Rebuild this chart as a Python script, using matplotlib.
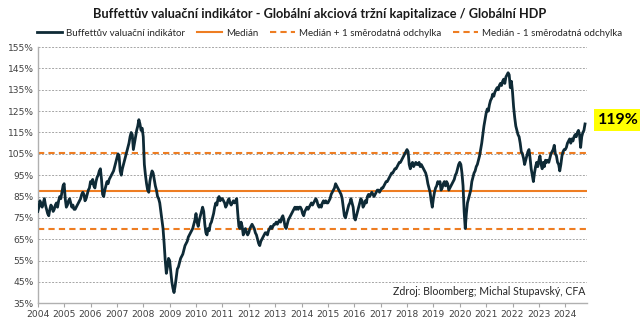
import matplotlib.pyplot as plt
import numpy as np

# semi-monthly readings (% of global GDP), 24 per year starting 2004-01
y2004 = [78, 80, 83, 81, 80, 82, 84, 81, 79, 77, 76, 79, 81, 80, 78, 79, 81, 82, 80, 83, 85, 84, 87, 90]
y2005 = [91, 84, 80, 81, 83, 84, 82, 80, 81, 79, 79, 80, 81, 82, 83, 84, 86, 87, 86, 83, 84, 86, 88, 89]
y2006 = [92, 91, 93, 90, 89, 92, 94, 95, 97, 98, 93, 86, 85, 88, 90, 92, 91, 93, 94, 95, 96, 97, 99, 101]
y2007 = [103, 105, 104, 97, 95, 98, 100, 102, 104, 106, 108, 110, 113, 115, 114, 107, 110, 113, 116, 118, 121, 119, 116, 117]
y2008 = [113, 100, 95, 91, 88, 87, 92, 95, 97, 96, 93, 90, 88, 85, 84, 82, 78, 74, 70, 63, 55, 49, 52, 56]
y2009 = [55, 50, 45, 42, 40, 43, 47, 51, 52, 54, 56, 57, 58, 60, 62, 63, 64, 66, 67, 68, 69, 70, 72, 74]
y2010 = [77, 73, 71, 74, 76, 78, 80, 78, 72, 68, 67, 70, 69, 72, 73, 75, 77, 80, 82, 81, 84, 85, 83, 84]
y2011 = [84, 83, 82, 80, 81, 83, 84, 82, 81, 82, 83, 82, 83, 84, 77, 71, 70, 73, 71, 67, 69, 70, 68, 67]
y2012 = [68, 70, 71, 72, 71, 70, 68, 67, 65, 63, 62, 64, 65, 66, 67, 68, 68, 67, 69, 70, 71, 70, 71, 72]
y2013 = [72, 73, 72, 73, 74, 73, 75, 76, 74, 71, 70, 72, 74, 75, 76, 77, 78, 79, 80, 79, 80, 79, 80, 80]
y2014 = [79, 77, 76, 78, 79, 80, 79, 80, 81, 82, 81, 82, 83, 84, 83, 81, 80, 81, 80, 82, 83, 82, 83, 82]
y2015 = [82, 83, 84, 86, 87, 88, 89, 91, 90, 89, 88, 87, 86, 84, 80, 76, 75, 77, 79, 81, 82, 84, 82, 80]
y2016 = [75, 74, 76, 78, 80, 82, 84, 83, 80, 81, 83, 82, 85, 86, 85, 86, 87, 86, 85, 86, 87, 88, 88, 87]
y2017 = [88, 89, 89, 90, 91, 92, 92, 93, 94, 95, 96, 96, 97, 98, 98, 99, 100, 101, 101, 102, 103, 104, 105, 106]
y2018 = [107, 106, 100, 98, 100, 101, 99, 100, 101, 100, 100, 101, 99, 100, 99, 98, 97, 96, 94, 91, 89, 87, 83, 80]
y2019 = [84, 87, 89, 90, 92, 91, 92, 88, 89, 91, 92, 90, 92, 91, 88, 89, 90, 91, 92, 93, 95, 96, 98, 100]
y2020 = [101, 100, 96, 90, 78, 70, 77, 82, 84, 86, 88, 92, 94, 96, 97, 99, 100, 102, 104, 107, 110, 114, 118, 121]
y2021 = [124, 126, 125, 128, 130, 131, 133, 132, 134, 135, 136, 135, 137, 138, 137, 139, 140, 138, 141, 142, 143, 142, 136, 139]
y2022 = [134, 127, 122, 118, 116, 114, 113, 110, 106, 105, 103, 100, 102, 104, 106, 107, 103, 98, 95, 92, 96, 99, 101, 99]
y2023 = [102, 104, 100, 98, 101, 99, 102, 101, 102, 101, 103, 105, 106, 107, 109, 105, 104, 101, 100, 97, 100, 104, 106, 107]
y2024 = [107, 108, 110, 111, 112, 110, 112, 111, 113, 114, 113, 115, 116, 114, 108, 113, 115, 116, 119]

median = 87.8
plus_sd = 105.5
minus_sd = 70.0
latest_label = "119%"
years = list(range(2004, 2025))

vals = (y2004 + y2005 + y2006 + y2007 + y2008 + y2009 + y2010 + y2011 + y2012 + y2013
        + y2014 + y2015 + y2016 + y2017 + y2018 + y2019 + y2020 + y2021 + y2022 + y2023 + y2024)
t = 2004 + np.arange(len(vals)) / 24.0

navy = "#0e2a36"
orange = "#ee7d22"
grey = "#a6a6a6"

fig = plt.figure(figsize=(6.4, 3.25), dpi=100)
ax = fig.add_axes([0.059, 0.067, 0.858, 0.788])

ax.plot(t, vals, color=navy, lw=2.0, label="Buffettův valuační indikátor", zorder=3)
ax.axhline(median, color=orange, lw=1.5, label="Medián", zorder=2)
ax.axhline(plus_sd, color=orange, lw=1.5, ls=(0, (3, 2)), label="Medián + 1 směrodatná odchylka", zorder=2)
ax.axhline(minus_sd, color=orange, lw=1.5, ls=(0, (3, 2)), label="Medián - 1 směrodatná odchylka", zorder=2)

ax.set_xlim(2004, 2024.82)
ax.set_ylim(35, 155)
ax.set_yticks(np.arange(35, 156, 10))
ax.set_yticklabels([f"{v}%" for v in range(35, 156, 10)])
ax.set_xticks(years)
ax.set_xticklabels([str(y) for y in years])
ax.grid(axis="y", color=grey, ls=(0, (2, 1.5)), lw=0.7, zorder=0)
ax.tick_params(axis="y", length=0, labelsize=6.6, labelcolor="#404040", pad=3)
ax.tick_params(axis="x", length=3, color=grey, labelsize=6.6, labelcolor="#404040", pad=2)
for s in ["top", "right"]:
    ax.spines[s].set_visible(False)
for s in ["left", "bottom"]:
    ax.spines[s].set_color("#b0b0b0")
    ax.spines[s].set_linewidth(1.0)

fig.suptitle("Buffettův valuační indikátor - Globální akciová tržní kapitalizace / Globální HDP",
             x=0.50, y=0.975, fontsize=9.2, fontweight="bold", family="Lato", color="#1a1a1a")
fig.legend(loc="center", bbox_to_anchor=(0.515, 0.898), ncol=4, frameon=False,
           prop={"family": "Lato", "size": 7.0}, handlelength=2.6, columnspacing=1.2,
           handletextpad=0.4, labelcolor="#262626")

ax.text(0.997, 0.045, "Zdroj: Bloomberg; Michal Stupavský, CFA", transform=ax.transAxes,
        ha="right", va="center", fontsize=7.6, family="Lato", color="#262626")

ax.text(1.058, 121, latest_label, transform=ax.get_yaxis_transform(), ha="center", va="center",
        fontsize=11.5, fontweight="bold", family="Lato", color="black", clip_on=False,
        bbox=dict(boxstyle="square,pad=0.25", fc="#ffff00", ec="none"))

fig.savefig("out.png", dpi=100)
